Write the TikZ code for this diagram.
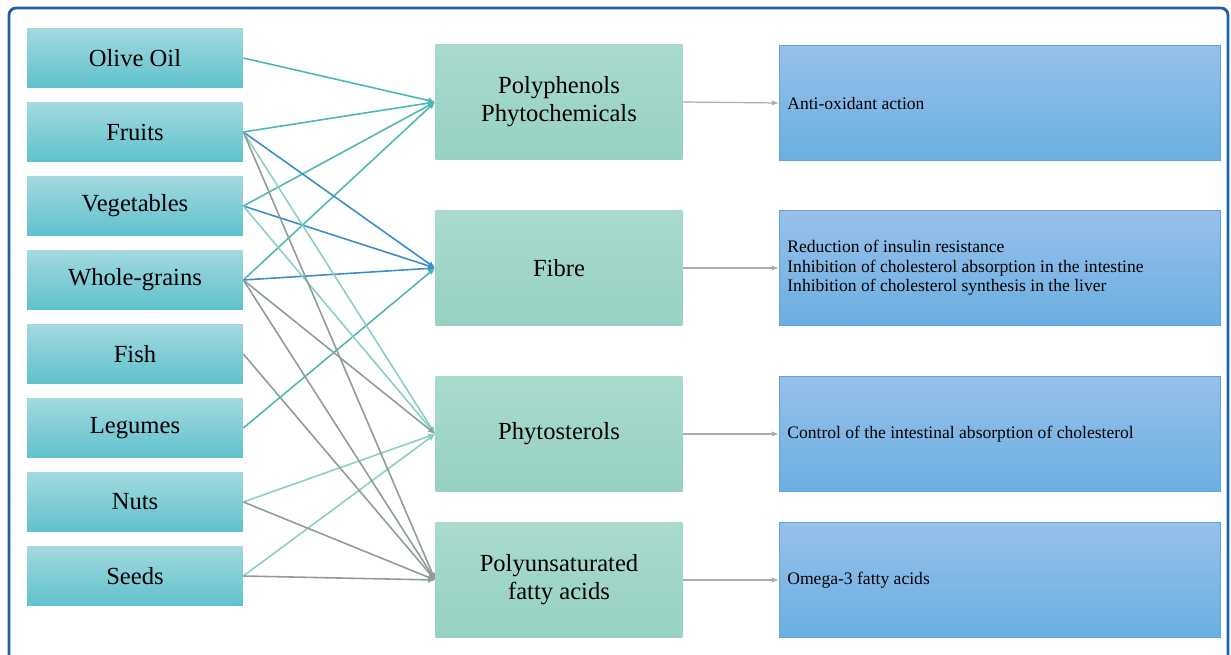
\documentclass[tikz,border=0pt]{standalone}
\usepackage{fontspec}
\setmainfont{Liberation Serif}
\newfontfamily\boxfont{Liberation Serif}
\usetikzlibrary{arrows.meta,positioning,calc}

\definecolor{foodtop}{HTML}{A3D9DF}
\definecolor{foodbot}{HTML}{5FC1CD}
\definecolor{compfill}{HTML}{96D1C3}
\definecolor{comptop}{HTML}{A9DACE}
\definecolor{efftop}{HTML}{98C0EA}
\definecolor{effbot}{HTML}{6AAFE2}
\definecolor{effline}{HTML}{5FA4DC}
\definecolor{frame}{HTML}{1F5FA8}
\definecolor{linkteal}{HTML}{4DB8B2}
\definecolor{linkblue}{HTML}{3A8DC8}
\definecolor{linklight}{HTML}{8ACFC4}
\definecolor{linkgray}{HTML}{8E9C9C}

\tikzset{
  food/.style={minimum width=4.32cm, minimum height=1.2cm, inner sep=0pt,
    top color=foodtop, bottom color=foodbot,
    font=\boxfont\fontsize{14}{16}\selectfont},
  comp/.style={minimum width=4.94cm, minimum height=2.32cm, inner sep=0pt,
    top color=comptop, bottom color=compfill, align=center,
    font=\boxfont\fontsize{14}{16}\selectfont},
  effect/.style={minimum width=8.82cm, minimum height=2.3cm, inner sep=0pt,
    top color=efftop, bottom color=effbot, draw=effline, line width=0.6pt},
  efftext/.style={anchor=west, align=left, inner sep=0pt,
    font=\boxfont\fontsize{10}{11}\selectfont},
  link/.style={line width=0.9pt, -{Latex[length=4pt,width=3.5pt]}},
  effectlink/.style={draw=linkgray!80, line width=0.7pt, -{Latex[length=4pt,width=3pt]}}
}

\begin{document}
\begin{tikzpicture}[x=0.02cm, y=-0.02cm]
   \useasboundingbox (0,0) rectangle (1231,655);
   % outer frame
   \draw[frame, line width=1.6pt, rounded corners=4pt] (9,8) rectangle (1228,700);

   % foods
   \node[food] (oil) at (135,58) {Olive Oil};
   \node[food] (fruits) at (135,132) {Fruits};
   \node[food] (veg) at (135,206) {Vegetables};
   \node[food] (grains) at (135,280) {Whole-grains};
   \node[food] (fish) at (135,354) {Fish};
   \node[food] (legumes) at (135,428) {Legumes};
   \node[food] (nuts) at (135,502) {Nuts};
   \node[food] (seeds) at (135,576) {Seeds};

   % compounds
   \node[comp] (poly) at (559,102) {Polyphenols\\Phytochemicals};
   \node[comp] (fibre) at (559,268) {Fibre};
   \node[comp] (phyto) at (559,434) {Phytosterols};
   \node[comp] (pufa) at (559,580) {Polyunsaturated\\fatty acids};

   % effects
   \node[effect] (antiox) at (1000,103) {};
   \node[effect] (insulin) at (1000,268) {};
   \node[effect] (absorb) at (1000,434) {};
   \node[effect] (omega) at (1000,580) {};
   \node[efftext] at ([xshift=0.16cm]antiox.west) {Anti-oxidant action};
   \node[efftext] at ([xshift=0.16cm]insulin.west)
     {Reduction of insulin resistance\\Inhibition of cholesterol absorption in the intestine\\Inhibition of cholesterol synthesis in the liver};
   \node[efftext] at ([xshift=0.16cm]absorb.west) {Control of the intestinal absorption of cholesterol};
   \node[efftext] at ([xshift=0.16cm]omega.west) {Omega-3 fatty acids};

   % food -> compound
   \draw[link, draw=linkteal] (oil.east) -- (poly.west);
   \draw[link, draw=linkteal] (fruits.east) -- (poly.west);
   \draw[link, draw=linkteal] (veg.east) -- (poly.west);
   \draw[link, draw=linkteal] (grains.east) -- (poly.west);
   \draw[link, draw=linkblue] (fruits.east) -- (fibre.west);
   \draw[link, draw=linkblue] (veg.east) -- (fibre.west);
   \draw[link, draw=linkblue] (grains.east) -- (fibre.west);
   \draw[link, draw=linkteal] (legumes.east) -- (fibre.west);
   \draw[link, draw=linklight] (fruits.east) -- (phyto.west);
   \draw[link, draw=linklight] (veg.east) -- (phyto.west);
   \draw[link, draw=linkgray] (grains.east) -- (phyto.west);
   \draw[link, draw=linklight] (nuts.east) -- (phyto.west);
   \draw[link, draw=linklight] (seeds.east) -- (phyto.west);
   \draw[link, draw=linkgray] (fruits.east) -- (pufa.west);
   \draw[link, draw=linkgray] (grains.east) -- (pufa.west);
   \draw[link, draw=linkgray] (fish.east) -- (pufa.west);
   \draw[link, draw=linkgray] (nuts.east) -- (pufa.west);
   \draw[link, draw=linkgray] (seeds.east) -- (pufa.west);

   % compound -> effect
   \draw[effectlink] (poly.east) -- (antiox.west);
   \draw[effectlink] (fibre.east) -- (insulin.west);
   \draw[effectlink] (phyto.east) -- (absorb.west);
   \draw[effectlink] (pufa.east) -- (omega.west);
\end{tikzpicture}
\end{document}
